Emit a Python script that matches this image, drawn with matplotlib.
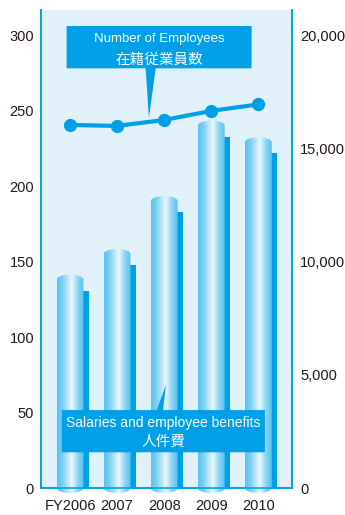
import numpy as np
import matplotlib
matplotlib.use("Agg")
import matplotlib.pyplot as plt
from matplotlib.patches import Polygon, Rectangle, PathPatch
from matplotlib.path import Path
from matplotlib.colors import LinearSegmentedColormap

# ---- data ----
years = ["FY2006", "2007", "2008", "2009", "2010"]
salaries = [138, 155, 190, 240, 229]          # left axis (cylinders)
employees = [16030, 15990, 16250, 16650, 16940]  # right axis (line)
left_ticks = [0, 50, 100, 150, 200, 250, 300]
right_ticks = [0, 5000, 10000, 15000, 20000]
right_ticklabels = ["0", "5,000", "10,000", "15,000", "20,000"]

BLUE = "#00A0E9"
BG = "#E0F1FA"
TXT = "#231815"

plt.rcParams['font.family'] = ['Liberation Sans', 'DejaVu Sans']

fig = plt.figure(figsize=(3.45, 5.15), dpi=100)
ax = fig.add_axes([41/345, 27/515, 251/345, 478/515])
ax.set_facecolor(BG)
ax2 = ax.twinx()

YTOP = 316.6
ax.set_xlim(-0.616, 4.715)
ax.set_ylim(0, YTOP)
ax2.set_ylim(0, YTOP * 20000 / 300)

x = np.arange(len(years))
bw = 0.57
cap_h = 6.6  # ellipse height in data units
sh_dx = 0.12
sh_dy = 7.3

cmap = LinearSegmentedColormap.from_list(
    "cyl", [(0.0, "#56C2F0"), (0.2, "#7CCFF3"), (0.55, "#EAF7FD"),
            (0.8, "#86D3F4"), (1.0, "#56C2F0")])
grad = np.linspace(0, 1, 256).reshape(1, -1)

for xi, v in zip(x, salaries):
    # shadow
    ax.add_patch(Rectangle((xi + bw/2 - 0.02, 0), sh_dx + 0.02, v - sh_dy,
                           facecolor=BLUE, edgecolor='none', zorder=2,
                           clip_on=True))
    x0, x1 = xi - bw/2, xi + bw/2
    t = np.linspace(np.pi, 0, 40)
    top = [(xi + bw/2*np.cos(a), v + cap_h/2*np.sin(a)) for a in t]
    tb = np.linspace(0, -np.pi, 40)
    bot = [(xi + bw/2*np.cos(a), 0 + cap_h/2*np.sin(a)) for a in tb]
    pts = top + bot
    path = Path(pts + [pts[0]], [Path.MOVETO] + [Path.LINETO]*(len(pts)-1) + [Path.CLOSEPOLY])
    patch = PathPatch(path, facecolor='none', edgecolor='none', transform=ax.transData)
    ax.add_patch(patch)
    im = ax.imshow(grad, cmap=cmap, aspect='auto',
                   extent=(x0, x1, -cap_h, v + cap_h), zorder=3,
                   interpolation='bilinear')
    im.set_clip_path(patch)
    im.set_clip_box(fig.bbox)

ax.set_xlim(-0.616, 4.715)
ax.set_ylim(0, YTOP)

# line on right axis
ax2.plot(x, employees, color=BLUE, lw=3, marker='o', ms=8.5, zorder=5,
         solid_capstyle='round')

# spines
for a in (ax, ax2):
    a.spines['top'].set_visible(False)
    for s in ('left', 'right', 'bottom'):
        a.spines[s].set_color(BLUE)
        a.spines[s].set_linewidth(1.2)
ax.spines['bottom'].set_zorder(1)

ax.set_yticks(left_ticks)
ax.set_yticklabels([str(t) for t in left_ticks])
ax2.set_yticks(right_ticks)
ax2.set_yticklabels(right_ticklabels)
ax.set_xticks(x)
ax.set_xticklabels(years)
ax.tick_params(axis='y', length=0, pad=5, labelsize=10.5, labelcolor=TXT)
ax2.tick_params(axis='y', length=0, pad=6, labelsize=10.5, labelcolor=TXT)
ax.tick_params(axis='x', length=0, pad=8, labelsize=10.5, labelcolor=TXT)

# callout boxes (axes fraction coords)
tr = ax2.transAxes
box1 = Polygon([(0.102, 0.878), (0.417, 0.878), (0.430, 0.774), (0.457, 0.878),
                (0.839, 0.878), (0.839, 0.9665), (0.102, 0.9665)],
               closed=True, facecolor=BLUE, edgecolor='none', transform=tr,
               zorder=10)
ax2.add_patch(box1)
ax2.text(0.4705, 0.9385, "Number of Employees", transform=tr, ha='center',
         va='center', color='white', fontsize=9.5,
         family=['Liberation Sans Narrow', 'Liberation Sans'], zorder=11)
ax2.text(0.4705, 0.897, "在籍従業員数", transform=tr, ha='center',
         va='center', color='white', fontsize=10.5,
         family=['Noto Sans CJK JP'], zorder=11)

box2 = Polygon([(0.0825, 0.0747), (0.892, 0.0747), (0.892, 0.163),
                (0.486, 0.163), (0.4975, 0.2155), (0.461, 0.163),
                (0.0825, 0.163)],
               closed=True, facecolor=BLUE, edgecolor='none', transform=tr,
               zorder=10)
ax2.add_patch(box2)
ax2.text(0.487, 0.135, "Salaries and employee benefits", transform=tr,
         ha='center', va='center', color='white', fontsize=10,
         family=['Liberation Sans'], zorder=11)
ax2.text(0.487, 0.096, "人件費", transform=tr, ha='center', va='center',
         color='white', fontsize=10.5, family=['Noto Sans CJK JP'], zorder=11)

fig.savefig("out.png", dpi=100)
